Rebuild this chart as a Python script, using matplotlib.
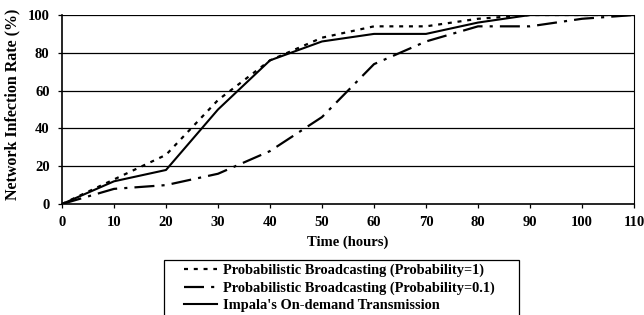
import matplotlib
matplotlib.use("Agg")
import matplotlib.pyplot as plt
from matplotlib.patches import Rectangle

hours = [0, 10, 20, 30, 40, 50, 60, 70, 80, 90, 100, 110]
prob_1 = [0, 13, 26, 55, 76, 88, 94, 94, 98, 100, 100, 100]
prob_01 = [0, 8, 10, 16, 28, 46, 74, 86, 94, 94, 98, 100]
impala = [0, 12, 18, 50, 76, 86, 90, 90, 96, 100, 100, 100]
labels = ["Probabilistic Broadcasting (Probability=1)",
          "Probabilistic Broadcasting (Probability=0.1)",
          "Impala's On-demand Transmission"]
yticks = [0, 20, 40, 60, 80, 100]
xticks = list(range(0, 111, 10))

plt.rcParams['font.family'] = ['Liberation Serif', 'DejaVu Serif']
plt.rcParams['font.weight'] = 'bold'

W, H = 644, 315
fig = plt.figure(figsize=(W/100, H/100), dpi=100)
ax = fig.add_axes([62/W, 1-204/H, (634-62)/W, (204-15)/H])

for y in yticks[1:]:
    ax.axhline(y, color='black', lw=0.9, zorder=1)

l1, = ax.plot(hours, prob_1, color='black', lw=1.6, dashes=(1.8, 2.6), zorder=3)
l2, = ax.plot(hours, prob_01, color='black', lw=1.6, dashes=(9, 3.2, 1.4, 3.2), zorder=3)
l3, = ax.plot(hours, impala, color='black', lw=1.5, zorder=3)

ax.set_xlim(0, 110)
ax.set_ylim(0, 100)
ax.set_xticks(xticks)
ax.set_yticks(yticks)
ax.tick_params(direction='out', length=3, width=0.9, labelsize=10.5, pad=6)
for lab in ax.get_xticklabels() + ax.get_yticklabels():
    lab.set_fontweight('bold')
ax.spines['top'].set_visible(False)
ax.spines['left'].set_linewidth(1.2)
ax.spines['bottom'].set_linewidth(1.2)
ax.spines['right'].set_linewidth(0.8)

ax.set_xlabel("Time (hours)", fontsize=10.5, fontweight='bold', labelpad=4)
ax.set_ylabel("Network Infection Rate (%)", fontsize=11.5, fontweight='bold')
ax.yaxis.set_label_coords(-0.072, 0.53)

# legend frame drawn manually (extends beyond the bottom edge as in the reference)
fig.patches.append(Rectangle((164/W, -0.05), (519-164)/W, 0.05 + 1-260/H,
                             transform=fig.transFigure, fill=False,
                             edgecolor='black', lw=0.9))
leg = fig.legend([l1, l2, l3], labels, loc='upper left',
                 bbox_to_anchor=(184/W, 1-264/H), frameon=False,
                 fontsize=10.4, handlelength=2.3, handletextpad=0.4,
                 labelspacing=0.27, borderpad=0, borderaxespad=0)
for t in leg.get_texts():
    t.set_fontweight('bold')

fig.savefig("out.png", dpi=100)
